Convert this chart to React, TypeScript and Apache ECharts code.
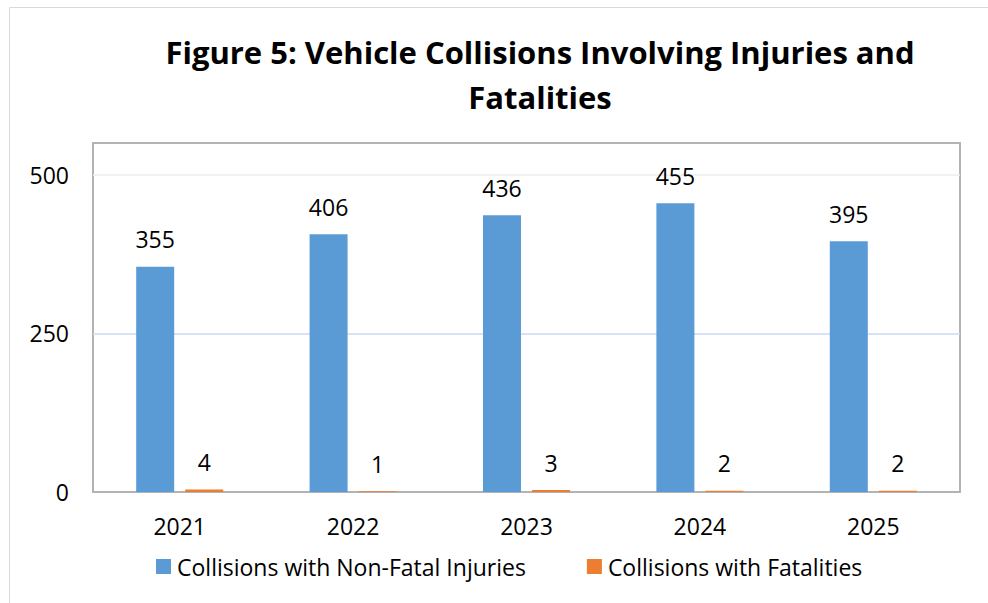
import React, { useEffect, useRef } from "react";
import * as echarts from "echarts";

const titleText = "Figure 5: Vehicle Collisions Involving Injuries and\nFatalities";
const years = ["2021", "2022", "2023", "2024", "2025"];
const seriesNames = ["Collisions with Non-Fatal Injuries", "Collisions with Fatalities"];
const nonFatal = [355, 406, 436, 455, 395];
const fatalities = [4, 1, 3, 2, 2];
const yMin = 0;
const yMax = 550;
const yStep = 250;

const FONT = "'Open Sans', 'Noto Sans', sans-serif";
const FS = 23;

export default function App() {
  const ref = useRef<HTMLDivElement>(null);
  useEffect(() => {
    if (!ref.current) return;
    const chart = echarts.init(ref.current, undefined, { renderer: "svg" });
    chart.setOption({
      animation: false,
      backgroundColor: "#ffffff",
      textStyle: { fontFamily: FONT, color: "#000" },
      title: {
        text: titleText,
        left: 535,
        top: 24,
        textAlign: "center",
        textStyle: { fontFamily: FONT, fontSize: 31, fontWeight: "bold", color: "#000", lineHeight: 45 },
      },
      graphic: [
        {
          type: "polyline",
          shape: { points: [[9.5, 610], [9.5, 7.5], [1000, 7.5]] },
          style: { stroke: "#d9d9d9", lineWidth: 1, fill: "none" },
          silent: true,
        },
      ],
      grid: {
        left: 93,
        right: 28,
        top: 143,
        bottom: 111,
        show: true,
        borderColor: "#b3b3b3",
        borderWidth: 2,
        containLabel: false,
      },
      legend: {
        data: seriesNames,
        left: 151,
        top: 550,
        itemWidth: 15,
        itemHeight: 15,
        itemGap: 61,
        icon: "rect",
        textStyle: { fontFamily: FONT, fontSize: FS, color: "#000", padding: [0, 0, 0, 1] },
      },
      xAxis: {
        type: "category",
        data: years,
        axisLine: { show: true, lineStyle: { color: "#b3b3b3", width: 2 } },
        axisTick: { show: false },
        axisLabel: { fontFamily: FONT, fontSize: FS, color: "#000", margin: 22 },
        splitLine: { show: false },
      },
      yAxis: {
        type: "value",
        min: yMin,
        max: yMax,
        interval: yStep,
        axisLine: { show: false },
        axisTick: { show: false },
        axisLabel: { fontFamily: FONT, fontSize: FS, color: "#000", margin: 24, showMaxLabel: false },
        splitLine: {
          show: true,
          lineStyle: { color: ["#b3b3b3", "#c9daf0", "#ececec", "#b3b3b3"], width: 1.5 },
        },
      },
      series: [
        {
          name: seriesNames[0],
          type: "bar",
          data: nonFatal,
          barWidth: 38,
          barGap: "29%",
          itemStyle: { color: "#5b9bd5" },
          label: { show: true, position: "top", distance: 16, fontFamily: FONT, fontSize: FS, color: "#000" },
        },
        {
          name: seriesNames[1],
          type: "bar",
          data: fatalities,
          barWidth: 38,
          itemStyle: { color: "#ed7d31" },
          label: { show: true, position: "top", distance: 16, fontFamily: FONT, fontSize: FS, color: "#000" },
        },
      ],
    });
    return () => chart.dispose();
  }, []);
  return (
    <div
      ref={ref}
      style={{ position: "fixed", left: 0, top: 0, width: 988, height: 603 }}
    />
  );
}
